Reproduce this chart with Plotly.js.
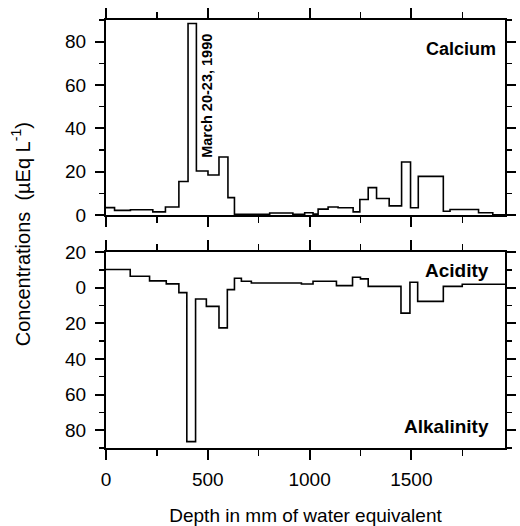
<!DOCTYPE html>
<html>
<head>
<meta charset="utf-8">
<script src="https://cdn.plot.ly/plotly-3.0.1.min.js"></script>
<style>html,body{margin:0;padding:0;background:#fff;}#chart{width:520px;height:526px;}</style>
</head>
<body>
<div id="chart"></div>
<script>
// Calcium step series: left edge of each step (mm w.e.) and value (µEq/L)
const caDepth = [0, 42, 120, 230, 292, 358, 403, 444, 501, 555, 599, 631, 804, 918, 976, 1017, 1042, 1091, 1140, 1214, 1247, 1288, 1329, 1391, 1452, 1496, 1534, 1657, 1690, 1830, 1900, 1960];
const caValue = [3.5, 2.2, 2.5, 1.5, 3.8, 15.5, 88.4, 20.4, 18.5, 26.8, 8.1, 0.4, 1.0, 0.4, 1.1, 0.5, 2.8, 3.8, 3.4, 1.5, 7.2, 12.7, 7.7, 4.3, 24.5, 3.4, 17.9, 1.8, 2.6, 1.1, 0.2, 0.2];

// Acidity (+) / Alkalinity (-) step series
const acDepth = [0, 119, 214, 296, 358, 397, 440, 493, 555, 596, 631, 665, 714, 960, 1017, 1132, 1211, 1250, 1288, 1449, 1493, 1531, 1657, 1750, 1960];
const acValue = [10.2, 6.4, 3.8, 2.1, -2.8, -86.4, -6.4, -10.5, -22.6, -1.1, 5.3, 3.6, 2.6, 2.0, 3.6, 1.1, 5.8, 4.9, 0.7, -14.3, 3.0, -7.7, 0.7, 1.9, 1.9];

const xTickVals = [0, 500, 1000, 1500];
const xTickText = ["0", "500", "1000", "1500"];
const caTickVals = [0, 20, 40, 60, 80];
const acTickVals = [20, 0, -20, -40, -60, -80];
const acTickText = ["20", "0", "20", "40", "60", "80"];

const FONT = "Liberation Sans, Arial, sans-serif";
const lineStyle = {color: "#000", width: 1.6, shape: "hv"};

const traces = [
  {x: caDepth, y: caValue, type: "scatter", mode: "lines", line: lineStyle, xaxis: "x", yaxis: "y", hoverinfo: "skip"},
  {x: acDepth, y: acValue, type: "scatter", mode: "lines", line: lineStyle, xaxis: "x2", yaxis: "y2", hoverinfo: "skip"}
];

const xCommon = {
  range: [0, 1960], showgrid: false, zeroline: false,
  showline: true, linecolor: "#000", linewidth: 2, mirror: "allticks",
  ticks: "outside", ticklen: 10, tickwidth: 2, tickcolor: "#000",
  tickvals: xTickVals, ticktext: xTickText,
  minor: {dtick: 250, tick0: 0, ticks: "outside", ticklen: 6, tickwidth: 1.5, tickcolor: "#000"},
  tickfont: {family: FONT, size: 19, color: "#000"},
  ticklabelstandoff: 3
};
const yCommon = {
  showgrid: false, zeroline: false,
  showline: true, linecolor: "#000", linewidth: 2, mirror: "allticks",
  ticks: "outside", ticklen: 9, tickwidth: 2, tickcolor: "#000",
  minor: {dtick: 10, tick0: 0, ticks: "outside", ticklen: 5, tickwidth: 1.5, tickcolor: "#000"},
  tickfont: {family: FONT, size: 19, color: "#000"},
  ticklabelstandoff: 5
};

const layout = {
  width: 520, height: 526,
  margin: {l: 106, r: 15, t: 20, b: 78},
  paper_bgcolor: "#fff", plot_bgcolor: "#fff",
  showlegend: false,
  font: {family: FONT, color: "#000"},
  xaxis: Object.assign({}, xCommon, {domain: [0, 1], anchor: "y", showticklabels: false}),
  yaxis: Object.assign({}, yCommon, {domain: [0.544, 1], anchor: "x", range: [0, 90], tickvals: caTickVals}),
  xaxis2: Object.assign({}, xCommon, {domain: [0, 1], anchor: "y2",
    title: {text: "Depth in mm of water equivalent", font: {family: FONT, size: 19, color: "#000"}, standoff: 23}}),
  yaxis2: Object.assign({}, yCommon, {domain: [0, 0.458], anchor: "x2", range: [-90, 20], tickvals: acTickVals, ticktext: acTickText}),
  annotations: [
    {text: "<b>Calcium</b>", xref: "x", yref: "y", x: 1925, y: 76.5, xanchor: "right", yanchor: "middle", showarrow: false, font: {family: FONT, size: 18, color: "#000"}},
    {text: "<b>March 20-23, 1990</b>", xref: "x", yref: "y", x: 496, y: 55, textangle: -90, xanchor: "center", yanchor: "middle", showarrow: false, font: {family: FONT, size: 14.5, color: "#000"}},
    {text: "<b>Acidity</b>", xref: "x2", yref: "y2", x: 1893, y: 9.8, xanchor: "right", yanchor: "middle", showarrow: false, font: {family: FONT, size: 19, color: "#000"}},
    {text: "<b>Alkalinity</b>", xref: "x2", yref: "y2", x: 1890, y: -78, xanchor: "right", yanchor: "middle", showarrow: false, font: {family: FONT, size: 19, color: "#000"}},
    {text: "Concentrations  (µEq L<sup>-1</sup>)", xref: "paper", yref: "paper", x: -0.215, y: 0.5, textangle: -90, xanchor: "center", yanchor: "middle", showarrow: false, font: {family: FONT, size: 20, color: "#000"}}
  ]
};

Plotly.newPlot("chart", traces, layout, {staticPlot: true, displayModeBar: false});
</script>
</body>
</html>
